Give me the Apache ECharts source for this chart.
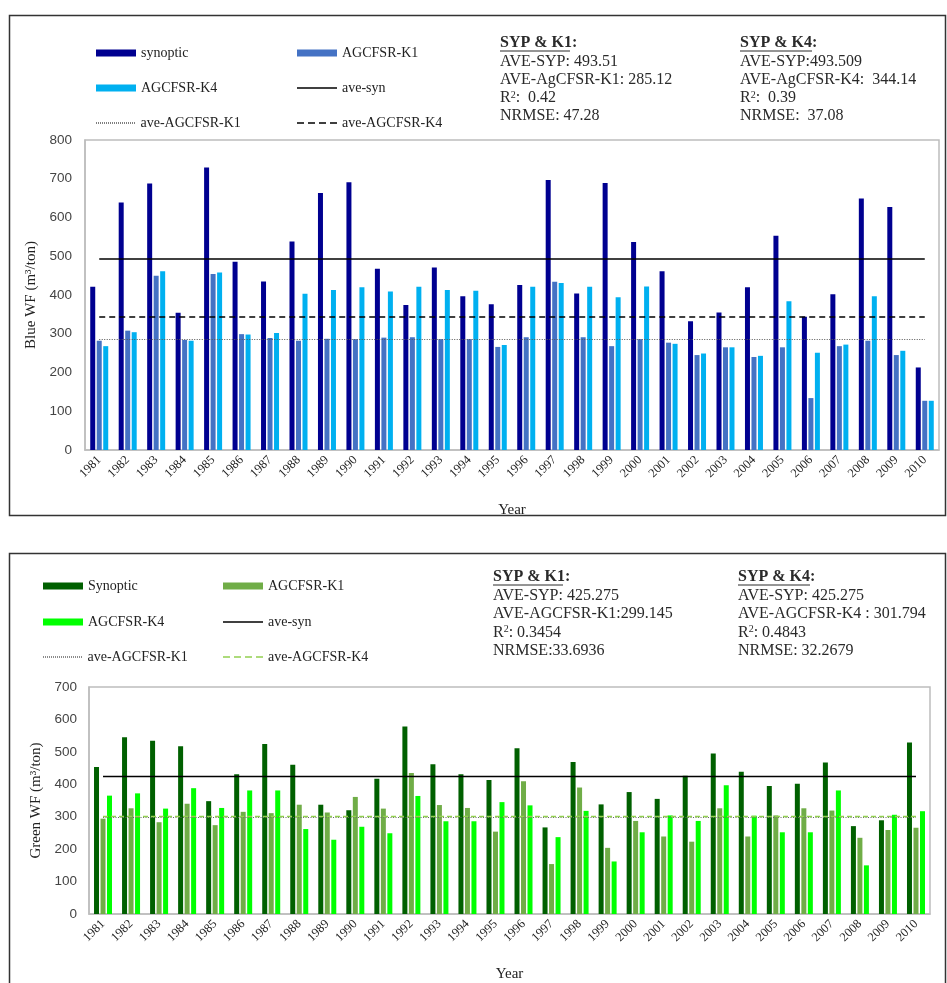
<!DOCTYPE html>
<html>
<head>
<meta charset="utf-8">
<script src="https://cdn.jsdelivr.net/npm/echarts@6/dist/echarts.min.js"></script>
<style>
html,body{margin:0;padding:0;background:#fff;}
#chart{width:947px;height:983px;}
</style>
</head>
<body>
<div id="chart"></div>
<script>
// ---------- DATA ----------
const years = ['1981','1982','1983','1984','1985','1986','1987','1988','1989','1990',
  '1991','1992','1993','1994','1995','1996','1997','1998','1999','2000',
  '2001','2002','2003','2004','2005','2006','2007','2008','2009','2010'];

// Blue WF (m3/ton)
const blueSynoptic = [421,639,688,354,729,486,435,538,663,691,468,374,471,397,376,426,697,404,689,537,461,332,355,420,553,344,402,649,627,213];
const blueK1 = [282,308,450,284,454,299,289,282,287,286,290,291,286,286,266,291,434,291,268,286,277,245,265,240,265,134,268,282,245,127];
const blueK4 = [268,304,461,282,458,298,302,403,413,420,409,421,413,411,271,421,431,421,394,422,274,249,265,243,384,251,272,397,256,127];
const blueAverages = [493.51, 285.12, 344.14]; // ave-syn, ave-K1, ave-K4

// Green WF (m3/ton)
const greenSynoptic = [453,545,534,517,348,431,524,460,337,320,417,578,462,431,413,511,267,469,338,376,355,426,495,439,395,402,467,271,289,529];
const greenK1 = [294,326,283,340,274,315,311,337,313,361,325,435,336,327,254,409,154,390,204,287,239,223,326,239,304,326,319,235,259,266];
const greenK4 = [365,372,325,388,327,381,381,262,229,269,249,364,286,286,345,335,237,318,162,252,304,287,397,303,252,252,381,150,306,317];
const greenAverages = [425.275, 299.145, 301.794];

// Tick labels
const blueTicks = [0,100,200,300,400,500,600,700,800];
const greenTicks = [0,100,200,300,400,500,600,700];

// Legend names
const blueNames = ['synoptic','AGCFSR-K1','AGCFSR-K4','ave-syn','ave-AGCFSR-K1','ave-AGCFSR-K4'];
const greenNames = ['Synoptic','AGCFSR-K1','AGCFSR-K4','ave-syn','ave-AGCFSR-K1','ave-AGCFSR-K4'];

// Stats text
const blueStatsK1 = ['SYP & K1:','AVE-SYP: 493.51','AVE-AgCFSR-K1: 285.12','R{s|2}:  0.42','NRMSE: 47.28'];
const blueStatsK4 = ['SYP & K4:','AVE-SYP:493.509','AVE-AgCFSR-K4:  344.14','R{s|2}:  0.39','NRMSE:  37.08'];
const greenStatsK1 = ['SYP & K1:','AVE-SYP: 425.275','AVE-AGCFSR-K1:299.145','R{s|2}: 0.3454','NRMSE:33.6936'];
const greenStatsK4 = ['SYP & K4:','AVE-SYP: 425.275','AVE-AGCFSR-K4 : 301.794','R{s|2}: 0.4843','NRMSE: 32.2679'];

// ---------- STYLE ----------
const SERIF = 'Liberation Serif';
const SANS = 'Liberation Sans';
const blueColors = ['#000090','#4472C4','#00B0F0'];
const greenColors = ['#006000','#70AD47','#00FF00'];

const chart = echarts.init(document.getElementById('chart'), null, {renderer:'canvas'});

function prefixName(p, n){ return p + '|' + n; }

// legend icon paths (40 x 1.5 box) for solid, dotted and dashed lines
function dashPath(dash, gap){
  let s = 'path://';
  for (let x = 0; x < 40; x += dash + gap) {
    const w = Math.min(dash, 40 - x);
    s += 'M' + x + ',0h' + w + 'v1.5h-' + w + 'Z';
  }
  return s;
}
const iconSolid = dashPath(40, 0);
const iconDotted = dashPath(1, 1);
const iconDashed = dashPath(7, 4);
const lineIcons = [iconSolid, iconDotted, iconDashed];

function makeSeries(p, idx, names, syn, k1, k4, avgs, colors, lineStyles){
  const bars = [syn,k1,k4].map((d,i)=>({
    type:'bar', name: prefixName(p,names[i]), xAxisIndex:idx, yAxisIndex:idx,
    data:d, barWidth:5, barGap:'30%',
    itemStyle:{color:colors[i]}, animation:false
  }));
  const lines = avgs.map((v,i)=>({
    type:'line', name: prefixName(p,names[3+i]), xAxisIndex:idx, yAxisIndex:idx,
    data:[], symbol:'none', lineStyle:lineStyles[i], itemStyle:{color:lineStyles[i].color},
    animation:false,
    markLine:{
      silent:true, symbol:['none','none'], label:{show:false},
      lineStyle:lineStyles[i],
      data:[[{coord:[years[0], v]},{coord:[years[years.length-1], v]}]]
    }
  }));
  return bars.concat(lines);
}

const blueLineStyles = [
  {color:'#000', width:1.5, type:'solid'},
  {color:'#555', width:1, type:[1,1.5]},
  {color:'#000', width:1.6, type:[6,4]}
];
const greenLineStyles = [
  {color:'#000', width:1.3, type:'solid'},
  {color:'#666', width:1, type:[1,1.5]},
  {color:'#92D050', width:1.3, type:[5,3]}
];

function makeLegends(p, names, pos){
  return names.map((n,i)=>{
    const isBar = i < 3;
    return {
      data:[prefixName(p,n)],
      left: pos[i][0], top: pos[i][1],
      itemWidth:40, itemHeight: isBar ? 7 : 1.5,
      itemGap:5,
      icon: isBar ? 'rect' : lineIcons[i-3],
      selectedMode:false,
      formatter: nm => nm.split('|')[1],
      textStyle:{fontFamily:SERIF, fontSize:14, color:'#222'}
    };
  });
}

const blueLegendPos = [[91,41],[292,41],[91,76],[292,76],[91,111],[292,111]];
const greenLegendPos = [[38,574],[218,574],[38,610],[218,610],[38,645],[218,645]];

function statsGraphic(lines, x, y0, step, hdrW){
  const els = [];
  lines.forEach((t,i)=>{
    els.push({
      type:'text', left:x, top:y0 + i*step, silent:true,
      style:{
        text:t, fill:'#2a2a2a',
        font: (i===0 ? 'bold ' : '') + '16px "' + SERIF + '"',
        rich:{s:{fontSize:10, verticalAlign:'top', fontFamily:SERIF, fill:'#2a2a2a', padding:[0,0,6,0]}}
      }
    });
  });
  els.push({
    type:'line', silent:true,
    shape:{x1:x, y1:y0+16, x2:x+hdrW, y2:y0+16},
    style:{stroke:'#2a2a2a', lineWidth:1}
  });
  return els;
}

const yAxisLabel = {fontFamily:SANS, fontSize:13.5, color:'#444'};
const xAxisLabel = {fontFamily:SERIF, fontSize:12.5, color:'#222', rotate:45, interval:0};

const option = {
  backgroundColor:'#fff',
  animation:false,
  grid:[
    {left:85, top:140, width:854, height:310, show:true, borderColor:'#bdbdbd', borderWidth:1.5, containLabel:false},
    {left:89, top:687, width:841, height:235, show:true, borderColor:'#bdbdbd', borderWidth:1.5, containLabel:false}
  ],
  legend: makeLegends('b', blueNames, blueLegendPos).concat(makeLegends('g', greenNames, greenLegendPos)),
  xAxis:[
    {type:'category', gridIndex:0, data:years, axisTick:{show:false},
     axisLine:{lineStyle:{color:'#bdbdbd', width:1.5}}, axisLabel:Object.assign({margin:8}, xAxisLabel),
     name:'Year', nameLocation:'middle', nameGap:53, nameTextStyle:{fontFamily:SERIF, fontSize:15, color:'#222'}},
    {type:'category', gridIndex:1, data:years, axisTick:{show:false},
     axisLine:{lineStyle:{color:'#bdbdbd', width:1.5}}, axisLabel:Object.assign({margin:8}, xAxisLabel),
     name:'Year', nameLocation:'middle', nameGap:53, nameTextStyle:{fontFamily:SERIF, fontSize:15, color:'#222'}}
  ],
  yAxis:[
    {type:'value', gridIndex:0, min:blueTicks[0], max:blueTicks[blueTicks.length-1], interval:blueTicks[1]-blueTicks[0],
     splitLine:{show:false}, axisTick:{show:false}, axisLine:{show:true, lineStyle:{color:'#bdbdbd', width:1.5}},
     axisLabel:Object.assign({margin:13}, yAxisLabel),
     name:'Blue WF (m³/ton)', nameLocation:'middle', nameGap:44, nameRotate:90,
     nameTextStyle:{fontFamily:SERIF, fontSize:15, color:'#222'}},
    {type:'value', gridIndex:1, min:greenTicks[0], max:greenTicks[greenTicks.length-1], interval:greenTicks[1]-greenTicks[0],
     splitLine:{show:false}, axisTick:{show:false}, axisLine:{show:true, lineStyle:{color:'#bdbdbd', width:1.5}},
     axisLabel:Object.assign({margin:12}, yAxisLabel),
     name:'Green WF (m³/ton)', nameLocation:'middle', nameGap:39, nameRotate:90,
     nameTextStyle:{fontFamily:SERIF, fontSize:15, color:'#222'}}
  ],
  series: makeSeries('b', 0, blueNames, blueSynoptic, blueK1, blueK4, blueAverages, blueColors, blueLineStyles)
    .concat(makeSeries('g', 1, greenNames, greenSynoptic, greenK1, greenK4, greenAverages, greenColors, greenLineStyles)),
  graphic: [
    {type:'rect', silent:true, shape:{x:9.5, y:15.5, width:936, height:500}, style:{fill:'none', stroke:'#333', lineWidth:1.5}},
    {type:'rect', silent:true, shape:{x:9.5, y:553.5, width:936, height:460}, style:{fill:'none', stroke:'#333', lineWidth:1.5}}
  ].concat(statsGraphic(blueStatsK1, 500, 35, 18.3, 70))
   .concat(statsGraphic(blueStatsK4, 740, 35, 18.3, 72))
   .concat(statsGraphic(greenStatsK1, 493, 569, 18.5, 70))
   .concat(statsGraphic(greenStatsK4, 738, 569, 18.5, 72))
};

chart.setOption(option);
</script>
</body>
</html>
